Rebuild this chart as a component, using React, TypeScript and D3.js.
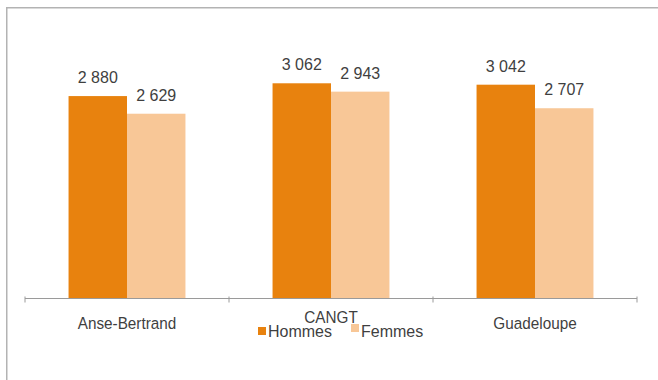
import React from "react";
import * as d3 from "d3";

// Salaire moyen par sexe
const categories: string[] = ["Anse-Bertrand", "CANGT", "Guadeloupe"];
const series: string[] = ["Hommes", "Femmes"];
const hommes: number[] = [2880, 3062, 3042];
const femmes: number[] = [2629, 2943, 2707];
const colors: string[] = ["#E8820E", "#F8C797"];

const W = 658;
const H = 380;
const axisY = 298.5;

const fmt = (v: number) => d3.format(",")(v).replace(/,/g, " ");

export default function App() {
  const x0 = d3.scaleBand<string>().domain(categories).range([25, 637]).padding(0);
  const x1 = d3
    .scaleBand<string>()
    .domain(series)
    .range([0, x0.bandwidth()])
    .paddingInner(0)
    .paddingOuter(0.745);
  const y = d3.scaleLinear().domain([0, 3500]).range([axisY, axisY - 246]);

  const values = [hommes, femmes];
  const tickXs = [...categories.map((c) => x0(c)!), x0.range()[1]];
  const textColor = "#3f3f3f";
  const font = "'Liberation Sans', Arial, sans-serif";

  return (
    <svg
      width={W}
      height={H}
      style={{ position: "absolute", left: 0, top: 0, background: "#fff" }}
      fontFamily={font}
    >
      <rect x={0} y={0} width={W} height={H} fill="#fff" />
      {/* frame */}
      <path d={`M6.75,${H} V7.75 H${W}`} fill="none" stroke="#b3b3b3" strokeWidth={1.5} />

      {/* bars */}
      {categories.map((c, ci) =>
        series.map((s, si) => {
          const v = values[si][ci];
          const bx = x0(c)! + x1(s)!;
          const bw = x1.bandwidth();
          return (
            <g key={c + s}>
              <rect x={bx} y={y(v)} width={bw} height={axisY - y(v)} fill={colors[si]} />
              <text
                x={bx + bw / 2}
                y={y(v) - 13}
                textAnchor="middle"
                fontSize={16}
                fill={textColor}
              >
                {fmt(v)}
              </text>
            </g>
          );
        })
      )}

      {/* category axis */}
      <line x1={x0.range()[0]} x2={x0.range()[1]} y1={axisY} y2={axisY} stroke="#9a9a9a" strokeWidth={1.2} />
      {tickXs.map((t, i) => (
        <line key={i} x1={t} x2={t} y1={axisY - 2} y2={axisY + 4} stroke="#9a9a9a" strokeWidth={1} />
      ))}
      {categories.map((c, ci) => (
        <g
          key={c}
          transform={`translate(${x0(c)! + x0.bandwidth() / 2},${ci === 1 ? 322.5 : 329}) scale(0.9,1)`}
        >
          <text x={0} y={0} textAnchor="middle" fontSize={17} fill={textColor}>
            {c}
          </text>
        </g>
      ))}

      {/* legend */}
      {series.map((s, si) => {
        const lx = si === 0 ? 258 : 351;
        return (
          <g key={s}>
            <rect x={lx} y={si === 0 ? 327 : 324} width={8} height={8} fill={colors[si]} />
            <text x={lx + 10} y={337} fontSize={16} fill={textColor}>
              {s}
            </text>
          </g>
        );
      })}
    </svg>
  );
}
